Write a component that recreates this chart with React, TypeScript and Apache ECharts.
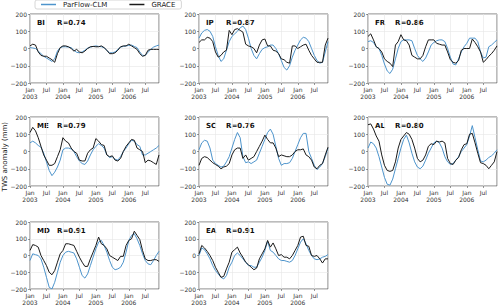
import React, { useEffect, useRef } from "react";
import * as echarts from "echarts";

const regions = ["BI", "IP", "FR", "ME", "SC", "AL", "MD", "EA"];
const corr = ["0.74", "0.87", "0.86", "0.79", "0.76", "0.80", "0.91", "0.91"];

// monthly values, Jan 2003 .. Dec 2006 (48 months)
const parflowBI = [5, 3, 0, -15, -30, -45, -55, -65, -75, -60, -15, 5, 10, 10, 8, 5, -10, -22, -25, -20, -10, 2, 8, 12, 15, 12, 10, 5, -12, -25, -25, -20, -5, 8, 12, 15, 18, 20, 12, 5, -20, -40, -40, -22, -5, 8, 15, 20];
const graceBI = [15, 25, 20, -20, -40, -45, -45, -55, -65, -80, -30, 5, 15, 15, 10, 0, -15, -5, -20, -25, -15, 0, 10, 12, 10, 10, 15, 5, -10, -30, -30, -25, -10, 10, 15, 15, 25, 15, 5, -5, -30, -45, -40, -10, -5, -5, -5, -5];
const parflowIP = [60, 90, 105, 110, 100, 70, 10, -40, -75, -60, -10, 40, 70, 85, 100, 120, 130, 110, 60, 0, -40, -60, -30, -5, 5, 10, 20, 20, 0, -30, -70, -110, -125, -100, -50, -10, 20, 50, 65, 60, 40, 0, -40, -70, -85, -80, -20, 40];
const graceIP = [35, 50, 50, 65, 60, 40, -20, -50, -40, -20, -10, 105, 80, 110, 115, 105, 95, 25, 15, 10, 0, -25, 20, 50, 55, 15, 15, -10, -15, -30, -60, -65, -80, -85, 15, 15, 0, 10, 20, 25, -10, -40, -60, -80, -80, -80, 20, 60];
const parflowFR = [40, 45, 35, 10, 0, -40, -90, -130, -145, -120, -60, 0, 40, 50, 50, 50, 45, 0, -40, -60, -75, -55, -20, 20, 35, 45, 50, 50, 40, 0, -50, -90, -95, -60, -20, 10, 30, 60, 60, 60, 40, -20, -55, -50, 10, 20, 35, 50];
const graceFR = [70, 85, 50, 10, 0, -20, -60, -75, -85, -105, 20, 40, 80, 50, 45, 20, -40, -50, -60, -60, -40, 10, 50, 50, 50, 30, 25, 20, 20, -20, -65, -80, -85, -70, -10, 0, 0, 0, 55, 35, 10, -20, -80, -65, -45, -30, -10, 15];
const parflowME = [50, 60, 50, 35, 25, -10, -60, -110, -140, -120, -90, -50, 10, 20, 20, 15, 0, -30, -55, -70, -75, -55, -20, 10, 30, 45, 35, 20, -20, -35, -30, -45, -50, -30, 0, 20, 45, 65, 60, 40, 30, -20, -20, -10, 0, 10, 20, 35];
const graceME = [110, 140, 120, 80, 30, -20, -50, -80, -80, -70, -30, 10, 80, 60, 50, 20, 0, -10, -50, -55, -55, -10, 10, 20, 75, 60, 40, 35, -20, -30, -25, -50, -55, -40, 0, 30, 50, 70, 65, 20, 10, 0, -65, -50, -55, -65, -75, -20];
const parflowSC = [10, 50, 65, 60, 20, -50, -70, -80, -90, -85, -60, -30, 20, 70, 110, 80, -30, -65, -60, -70, -60, -50, -10, 30, 70, 110, 130, 100, 30, -40, -80, -70, -70, -65, -40, 0, 40, 80, 105, 105, 0, -40, -80, -105, -90, -70, -30, 20];
const graceSC = [-80, -40, -30, -35, -50, -65, -75, -85, -100, -90, -85, -70, -20, 10, 20, 20, -40, -20, -50, -40, -30, 0, 30, 60, 95, 70, 50, 50, 20, -30, -20, -25, -30, -30, -20, 0, 10, 10, 15, -20, -30, -50, -90, -100, -80, -70, -20, 25];
const parflowAL = [20, 55, 45, 20, -30, -90, -150, -190, -195, -160, -100, -40, 20, 70, 95, 50, -10, -60, -90, -100, -85, -50, -10, 20, 50, 60, 50, 20, -30, -60, -75, -70, -50, -30, 0, 20, 40, 90, 150, 80, 10, -55, -60, -50, -35, -25, -10, 10];
const graceAL = [155, 160, 130, 90, 60, -20, -80, -110, -115, -110, -60, 20, 70, 90, 110, 100, 70, 20, -40, -60, -50, -20, 30, 45, 40, 60, 55, 60, 50, -40, -70, -75, -50, -35, 10, 40, 45, 100, 105, 50, -10, -65, -70, -80, -100, -80, -60, 0];
const parflowMD = [-30, 10, 5, 0, -20, -70, -130, -190, -200, -160, -100, -40, 0, 20, 25, 20, 15, -20, -70, -120, -135, -110, -60, -10, 40, 80, 90, 60, 20, -30, -70, -85, -80, -70, -40, 20, 90, 120, 130, 100, 60, 10, -30, -50, -55, -30, 0, 25];
const graceMD = [30, 65, 60, 50, 0, -30, -60, -100, -115, -90, -40, 10, 30, 70, 70, 65, 60, 25, -10, -40, -65, -65, -20, 20, 60, 110, 70, 60, 40, 0, -10, -20, -30, -5, -5, 60, 90, 100, 145, 120, 95, 30, -20, -30, -30, -25, -25, -35];
const parflowEA = [0, 45, 35, 10, -20, -60, -90, -110, -130, -140, -120, -70, -40, 0, 15, 0, -20, -40, -60, -60, -70, -70, -40, -10, 30, 85, 30, 20, 0, -20, -30, -30, -35, -40, -30, 0, 40, 80, 100, 70, 30, 0, -20, -25, -20, -10, -5, 5];
const graceEA = [10, 60, 45, 25, 0, -30, -70, -100, -130, -125, -80, -40, 20, 35, 50, 15, -10, -40, -55, -70, -85, -75, -20, 10, 40, 90, 50, 75, 40, 0, 5, -10, -10, -20, 0, 30, 60, 110, 115, 60, 55, 0, -5, 0, -20, -45, -20, -20];

const parflowAll = [parflowBI, parflowIP, parflowFR, parflowME, parflowSC, parflowAL, parflowMD, parflowEA];
const graceAll = [graceBI, graceIP, graceFR, graceME, graceSC, graceAL, graceMD, graceEA];

const colLeft = [30, 199, 368];
const rowTop = [14, 117, 222];
const plotW = 129;
const plotH = 69;
const blue = "#4d94cc";
const black = "#1a1a1a";
const font = "DejaVu Sans";

const minus = (v: number) => String(v).replace("-", "\u2212");

export default function App() {
  const ref = useRef<HTMLDivElement>(null);
  useEffect(() => {
    if (!ref.current) return;
    const chart = echarts.init(ref.current, undefined, { renderer: "svg" });
    const grids: any[] = [];
    const xAxes: any[] = [];
    const yAxes: any[] = [];
    const series: any[] = [];
    const graphics: any[] = [];
    regions.forEach((r, i) => {
      const left = colLeft[i % 3];
      const top = rowTop[Math.floor(i / 3)];
      grids.push({ left, top, width: plotW, height: plotH, show: true, borderColor: "#555", borderWidth: 0.8, backgroundColor: "transparent" });
      xAxes.push({
        type: "value", gridIndex: i, min: 0, max: 47, interval: 6,
        axisLine: { show: false, onZero: false },
        axisTick: { show: true, length: 2, lineStyle: { color: "#555", width: 0.6 } },
        axisLabel: {
          fontSize: 6, color: "#333", fontFamily: font, margin: 3, lineHeight: 7, showMaxLabel: false,
          formatter: (v: number) => (v % 12 === 0 ? "Jan\n" + (2003 + v / 12) : v % 6 === 0 ? "Jul" : ""),
        },
        splitLine: { show: true, lineStyle: { color: "#e6e6e6", width: 0.6 } },
      });
      yAxes.push({
        type: "value", gridIndex: i, min: -200, max: 200, interval: 100,
        axisLine: { show: false, onZero: false },
        axisTick: { show: true, length: 2, lineStyle: { color: "#555", width: 0.6 } },
        axisLabel: { fontSize: 6, color: "#333", fontFamily: font, margin: 3, formatter: (v: number) => minus(v) },
        splitLine: { show: true, lineStyle: { color: "#e6e6e6", width: 0.6 } },
      });
      series.push({
        name: "ParFlow-CLM", type: "line", xAxisIndex: i, yAxisIndex: i, symbol: "none",
        data: parflowAll[i].map((v, m) => [m, v]), lineStyle: { color: blue, width: 1 }, itemStyle: { color: blue }, z: 2,
      });
      series.push({
        name: "GRACE", type: "line", xAxisIndex: i, yAxisIndex: i, symbol: "none",
        data: graceAll[i].map((v, m) => [m, v]), lineStyle: { color: black, width: 1 }, itemStyle: { color: black }, z: 3,
      });
      graphics.push({ type: "text", left: left + 7, top: top + 5, style: { text: r, font: `bold 7px ${font}`, fill: "#111" } });
      graphics.push({ type: "text", left: left + 27, top: top + 5, style: { text: "R=" + corr[i], font: `bold 7px ${font}`, fill: "#111" } });
    });
    graphics.push({
      type: "text", left: 1, top: 122, rotation: Math.PI / 2,
      style: { text: "TWS anomaly (mm)", font: `7px ${font}`, fill: "#222" },
    });
    chart.setOption({
      animation: false,
      backgroundColor: "#fff",
      legend: {
        left: 35, top: 0, itemWidth: 15, itemHeight: 1.5, itemGap: 22, padding: [1, 6],
        borderColor: "#ccc", borderWidth: 0.8, borderRadius: 2,
        textStyle: { fontSize: 7, fontFamily: font, color: "#222", padding: [0, 0, 0, 2] },
        data: [
          { name: "ParFlow-CLM", icon: "rect", itemStyle: { color: blue } },
          { name: "GRACE", icon: "rect", itemStyle: { color: black } },
        ],
      },
      grid: grids, xAxis: xAxes, yAxis: yAxes, series, graphic: graphics,
    });
    return () => chart.dispose();
  }, []);
  return <div ref={ref} style={{ width: 500, height: 306, position: "absolute", left: 0, top: 0 }} />;
}
